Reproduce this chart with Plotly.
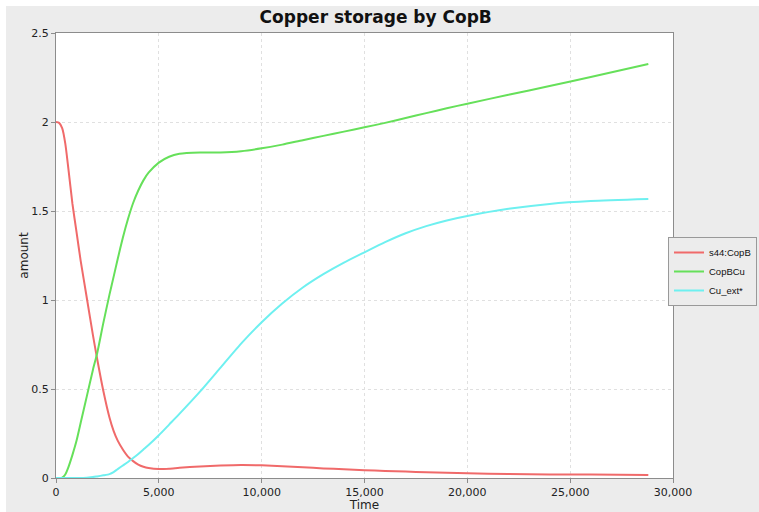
import plotly.graph_objects as go

time = [0, 150, 300, 450, 600, 800, 1000, 1200, 1500, 1800, 2000, 2300, 2600, 2800,
        3000, 3250, 3500, 3750, 4000, 4250, 4500, 5000, 5500, 6000, 7000, 8000, 9000,
        10000, 11000, 12000, 13000, 14000, 15000, 16000, 17000, 18000, 19000, 20000,
        22000, 24000, 26000, 28800]

s44_copb = [2.00, 1.995, 1.965, 1.88, 1.74, 1.54, 1.38, 1.22, 1.01, 0.80, 0.67, 0.49,
            0.34, 0.265, 0.21, 0.16, 0.12, 0.095, 0.075, 0.063, 0.056, 0.050, 0.052,
            0.057, 0.065, 0.070, 0.073, 0.071, 0.066, 0.060, 0.054, 0.049, 0.044, 0.040,
            0.036, 0.032, 0.029, 0.026, 0.022, 0.020, 0.019, 0.017]

copbcu = [0.0, 0.0, 0.002, 0.02, 0.06, 0.13, 0.21, 0.31, 0.46, 0.61, 0.70, 0.87,
          1.03, 1.13, 1.23, 1.35, 1.455, 1.545, 1.615, 1.672, 1.715, 1.772, 1.805, 1.821,
          1.828, 1.829, 1.836, 1.852, 1.873, 1.898, 1.922, 1.946, 1.970, 1.995, 2.022,
          2.050, 2.077, 2.103, 2.153, 2.202, 2.253, 2.326]

cu_ext = [0.0, 0.0, 0.0, 0.0, 0.0, 0.0, 0.0, 0.0, 0.002, 0.005, 0.009, 0.015,
          0.022, 0.033, 0.05, 0.07, 0.09, 0.112, 0.135, 0.16, 0.185, 0.24, 0.30, 0.36,
          0.485, 0.62, 0.755, 0.875, 0.98, 1.07, 1.145, 1.21, 1.268, 1.325, 1.375, 1.415,
          1.447, 1.472, 1.512, 1.540, 1.556, 1.567]

series_names = ["s44:CopB", "CopBCu", "Cu_ext*"]
series_colors = ["#f06a6a", "#66e05a", "#6ef0f0"]
series_values = [s44_copb, copbcu, cu_ext]

x_ticks = [0, 5000, 10000, 15000, 20000, 25000, 30000]
y_ticks = [0, 0.5, 1, 1.5, 2, 2.5]

fig = go.Figure()
for name, color, vals in zip(series_names, series_colors, series_values):
    fig.add_trace(go.Scatter(
        x=time, y=vals, name=name, mode="lines",
        line=dict(color=color, width=2, shape="spline", smoothing=0.6),
    ))

font_family = "DejaVu Sans"
grid_color = "#e0e0e0"
axis_color = "#8c8c8c"

fig.update_layout(
    width=759, height=512,
    margin=dict(l=56, r=86, t=33, b=34, autoexpand=False),
    paper_bgcolor="#ececec",
    plot_bgcolor="#ffffff",
    font=dict(family=font_family, size=11, color="#222222"),
    title=dict(text="<b>Copper storage by CopB</b>", xref="container", x=0.495,
               xanchor="center", yref="container", y=0.966, yanchor="middle",
               font=dict(family=font_family, size=17, color="#111111")),
    showlegend=True,
    legend=dict(x=(757 - 56) / 617, y=(478 - 271.5) / 445, xanchor="right", yanchor="middle",
                bgcolor="#ececec", bordercolor="#999999", borderwidth=1,
                font=dict(family="Liberation Sans", size=9.5, color="#111111"),
                itemwidth=30, tracegroupgap=0),
    shapes=[
        dict(type="rect", xref="paper", yref="paper", x0=-0.2, x1=(6 - 56) / 617,
             y0=-0.2, y1=1.2, fillcolor="#ffffff", line=dict(width=0), layer="below"),
        dict(type="rect", xref="paper", yref="paper", x0=-0.2, x1=1.3,
             y0=(478 - 6) / 445, y1=1.2, fillcolor="#ffffff", line=dict(width=0), layer="below"),
    ],
)

fig.update_xaxes(
    range=[0, 30000], tickvals=x_ticks, tickformat=",d",
    showgrid=True, gridcolor=grid_color, griddash="dot", gridwidth=1,
    showline=True, linecolor=axis_color, linewidth=1, mirror=True,
    ticks="outside", ticklen=4, tickcolor=axis_color,
    zeroline=False, automargin=False,
    tickfont=dict(family=font_family, size=11, color="#222222"),
    title=dict(text="Time", standoff=4, font=dict(family=font_family, size=12, color="#222222")),
)
fig.update_yaxes(
    range=[0, 2.5], tickvals=y_ticks,
    showgrid=True, gridcolor=grid_color, griddash="dot", gridwidth=1,
    showline=True, linecolor=axis_color, linewidth=1, mirror=True,
    ticks="outside", ticklen=4, tickcolor=axis_color,
    zeroline=False, automargin=False,
    tickfont=dict(family=font_family, size=11, color="#222222"),
    title=dict(text="amount", standoff=0, font=dict(family=font_family, size=12, color="#222222")),
)

fig.write_html("out.html", config={"displayModeBar": False},
               post_script="document.body.style.margin='0';")
